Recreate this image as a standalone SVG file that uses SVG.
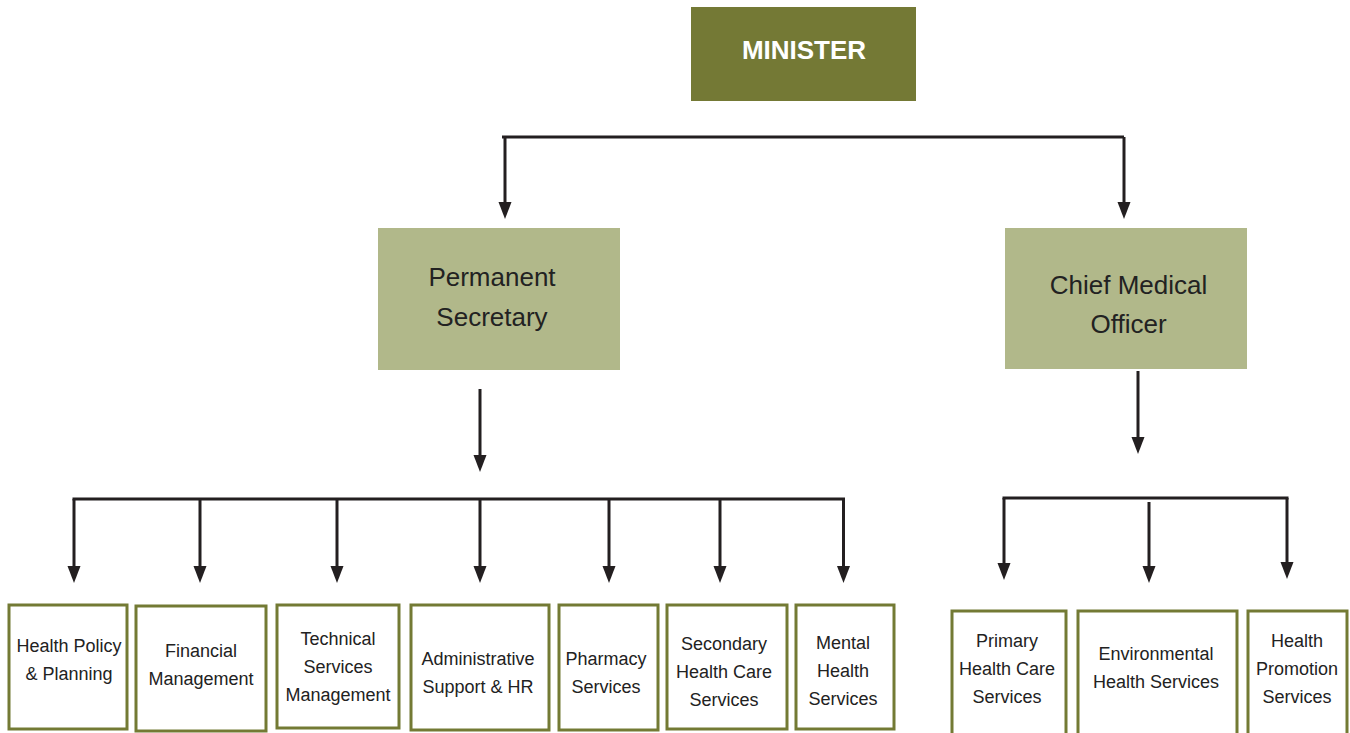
<svg xmlns="http://www.w3.org/2000/svg" width="1350" height="733" viewBox="0 0 1350 733">
  <defs>
    <marker id="arrow" markerUnits="userSpaceOnUse" viewBox="0 -7 17 14" refX="9" refY="0" markerWidth="17" markerHeight="14" orient="auto">
      <path d="M0,-6.5 L17,0 L0,6.5 Z" fill="#231f20"/>
    </marker>
  </defs>
  <style>
    .top { fill: #747935; }
    .mid { fill: #b1b88a; }
    .unit { fill: #ffffff; stroke: #737a34; stroke-width: 3; }
    .conn { fill: none; stroke: #231f20; stroke-width: 3; }
    .arr { marker-end: url(#arrow); }
    text { font-family: "Liberation Sans", Arial, sans-serif; text-anchor: middle; fill: #222222; }
    .t-top { font-size: 26px; font-weight: bold; fill: #ffffff; }
    .t-mid { font-size: 26px; }
    .t-unit { font-size: 18px; }
  </style>
  <rect width="1350" height="733" fill="#ffffff"/>

  <!-- connectors -->
  <g id="connectors">
    <polyline class="conn" points="502,137 1124,137"/>
    <line class="conn arr" x1="505" y1="137" x2="505" y2="211"/>
    <line class="conn arr" x1="1124" y1="137" x2="1124" y2="211"/>

    <line class="conn arr" x1="480" y1="389" x2="480" y2="464"/>
    <line class="conn" x1="72.5" y1="499" x2="845" y2="499"/>
    <line class="conn arr" x1="74" y1="499" x2="74" y2="575"/>
    <line class="conn arr" x1="200" y1="499" x2="200" y2="575"/>
    <line class="conn arr" x1="337" y1="499" x2="337" y2="575"/>
    <line class="conn arr" x1="480" y1="499" x2="480" y2="575"/>
    <line class="conn arr" x1="609" y1="499" x2="609" y2="575"/>
    <line class="conn arr" x1="720" y1="499" x2="720" y2="575"/>
    <line class="conn arr" x1="843.5" y1="499" x2="843.5" y2="575"/>

    <line class="conn arr" x1="1138" y1="371" x2="1138" y2="446"/>
    <line class="conn" x1="1002.5" y1="498" x2="1288.5" y2="498"/>
    <line class="conn arr" x1="1004" y1="498" x2="1004" y2="572"/>
    <line class="conn arr" x1="1149" y1="502" x2="1149" y2="575"/>
    <line class="conn arr" x1="1287" y1="498" x2="1287" y2="571"/>
  </g>

  <!-- top level -->
  <g id="minister">
    <rect class="top" x="691" y="7" width="225" height="94"/>
    <text class="t-top" x="804" y="59">MINISTER</text>
  </g>

  <!-- second level -->
  <g id="permanent-secretary">
    <rect class="mid" x="378" y="228" width="242" height="142"/>
    <text class="t-mid" x="492" y="286">Permanent</text>
    <text class="t-mid" x="492" y="326">Secretary</text>
  </g>
  <g id="chief-medical-officer">
    <rect class="mid" x="1005" y="228" width="242" height="141"/>
    <text class="t-mid" x="1128.5" y="294">Chief Medical</text>
    <text class="t-mid" x="1128.5" y="333">Officer</text>
  </g>

  <!-- units under the Permanent Secretary -->
  <g id="health-policy">
    <rect class="unit" x="9" y="605" width="118" height="124"/>
    <text class="t-unit" x="69" y="652">Health Policy</text>
    <text class="t-unit" x="69" y="680">&amp; Planning</text>
  </g>
  <g id="financial-management">
    <rect class="unit" x="136" y="606" width="130" height="125"/>
    <text class="t-unit" x="201" y="657">Financial</text>
    <text class="t-unit" x="201" y="685">Management</text>
  </g>
  <g id="technical-services">
    <rect class="unit" x="277" y="605" width="122" height="123"/>
    <text class="t-unit" x="338" y="645">Technical</text>
    <text class="t-unit" x="338" y="673">Services</text>
    <text class="t-unit" x="338" y="701">Management</text>
  </g>
  <g id="administrative-support">
    <rect class="unit" x="411" y="605" width="138" height="125"/>
    <text class="t-unit" x="478" y="665">Administrative</text>
    <text class="t-unit" x="478" y="693">Support &amp; HR</text>
  </g>
  <g id="pharmacy-services">
    <rect class="unit" x="559" y="605" width="99" height="125"/>
    <text class="t-unit" x="606" y="665">Pharmacy</text>
    <text class="t-unit" x="606" y="693">Services</text>
  </g>
  <g id="secondary-health-care">
    <rect class="unit" x="667" y="605" width="120" height="124"/>
    <text class="t-unit" x="724" y="650">Secondary</text>
    <text class="t-unit" x="724" y="678">Health Care</text>
    <text class="t-unit" x="724" y="706">Services</text>
  </g>
  <g id="mental-health">
    <rect class="unit" x="796" y="605" width="98" height="124"/>
    <text class="t-unit" x="843" y="649">Mental</text>
    <text class="t-unit" x="843" y="677">Health</text>
    <text class="t-unit" x="843" y="705">Services</text>
  </g>

  <!-- units under the Chief Medical Officer -->
  <g id="primary-health-care">
    <rect class="unit" x="952" y="611" width="114" height="130"/>
    <text class="t-unit" x="1007" y="647">Primary</text>
    <text class="t-unit" x="1007" y="675">Health Care</text>
    <text class="t-unit" x="1007" y="703">Services</text>
  </g>
  <g id="environmental-health">
    <rect class="unit" x="1078" y="611" width="159" height="130"/>
    <text class="t-unit" x="1156" y="660">Environmental</text>
    <text class="t-unit" x="1156" y="688">Health Services</text>
  </g>
  <g id="health-promotion">
    <rect class="unit" x="1248" y="611" width="99" height="130"/>
    <text class="t-unit" x="1297" y="647">Health</text>
    <text class="t-unit" x="1297" y="675">Promotion</text>
    <text class="t-unit" x="1297" y="703">Services</text>
  </g>
</svg>
